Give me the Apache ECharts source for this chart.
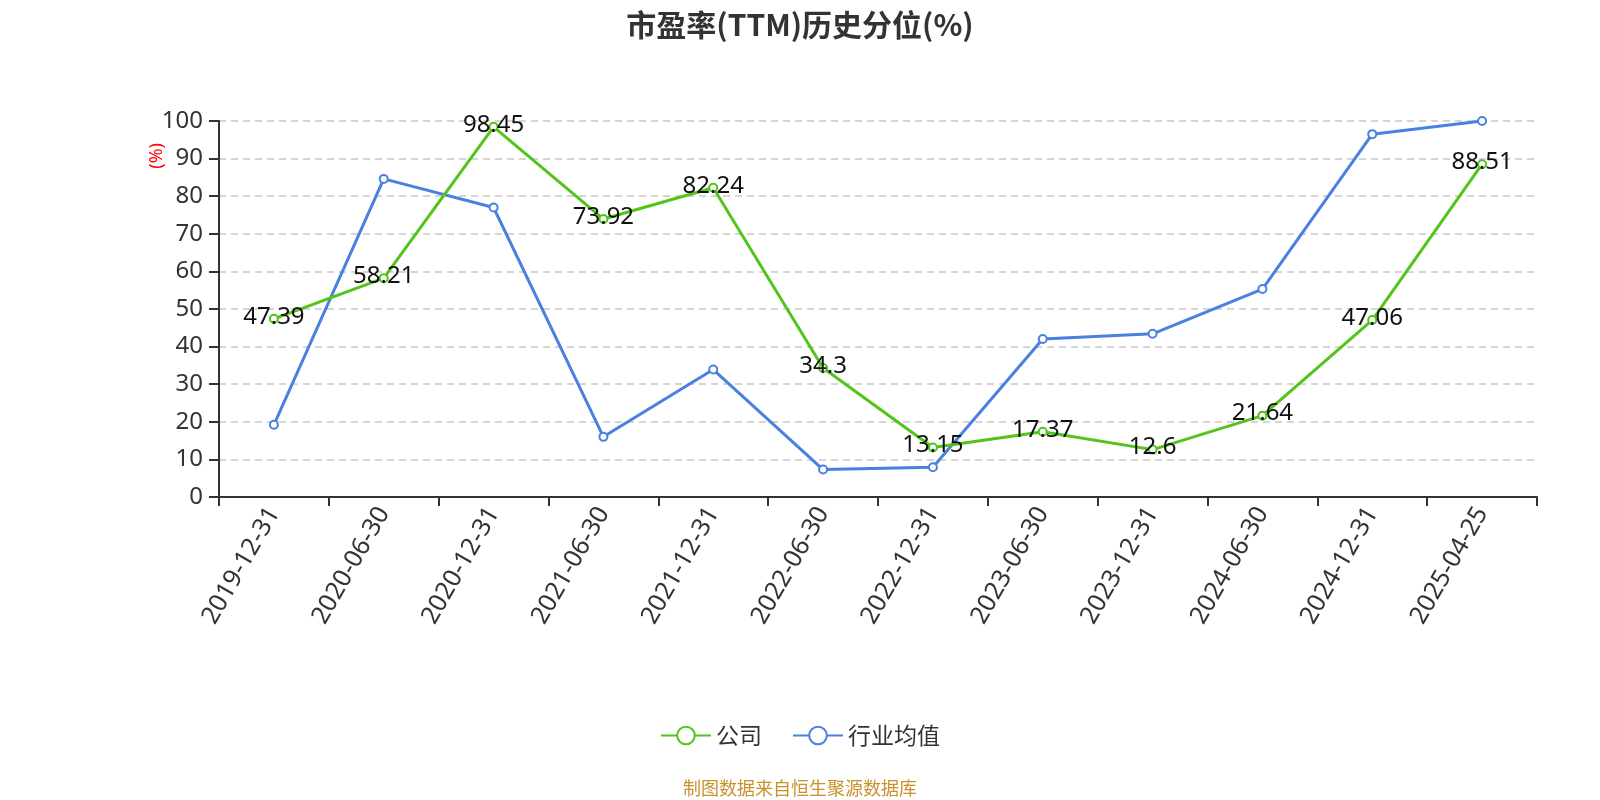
<!DOCTYPE html>
<html><head><meta charset="utf-8">
<script src="https://cdn.jsdelivr.net/npm/echarts@6/dist/echarts.min.js"></script>
<style>html,body{margin:0;padding:0;background:#fff}#c{width:1600px;height:800px}</style>
</head><body><div id="c"></div>
<script>
const categories = ['2019-12-31','2020-06-30','2020-12-31','2021-06-30','2021-12-31','2022-06-30','2022-12-31','2023-06-30','2023-12-31','2024-06-30','2024-12-31','2025-04-25'];
const companyValues = [47.39,58.21,98.45,73.92,82.24,34.3,13.15,17.37,12.6,21.64,47.06,88.51];
const industryValues = [19.2,84.6,77.0,16.0,33.9,7.3,7.9,42.0,43.4,55.3,96.5,100];
const seriesNames = ['公司','行业均值'];
const yTicks = {min:0,max:100,interval:10};

const chart = echarts.init(document.getElementById('c'));
chart.setOption({
  backgroundColor:'#fff',
  title:{text:'市盈率(TTM)历史分位(%)',left:'center',top:5,textStyle:{fontSize:30,fontWeight:'bold',color:'#333',fontFamily:'Noto Sans CJK SC'}},
  legend:{bottom:48,left:'center',itemWidth:50,itemHeight:22,itemGap:30,textStyle:{fontSize:23,color:'#333',fontFamily:'Noto Sans CJK SC'},data:seriesNames},
  grid:{left:219,right:63,top:121,bottom:303},
  xAxis:{type:'category',data:categories,boundaryGap:true,
    axisLine:{lineStyle:{color:'#333',width:2}},
    axisTick:{show:true,length:9,lineStyle:{color:'#333',width:2}},
    axisLabel:{rotate:60,fontSize:25,color:'#333',margin:12,fontFamily:'Noto Sans'}},
  yAxis:{type:'value',min:yTicks.min,max:yTicks.max,interval:yTicks.interval,
    axisLine:{show:true,lineStyle:{color:'#333',width:2}},
    axisTick:{show:true,length:10,lineStyle:{color:'#333',width:2}},
    axisLabel:{fontSize:24,color:'#333',margin:16,fontFamily:'Noto Sans'},
    splitLine:{show:true,lineStyle:{type:[7,5],color:'#c8c8c8',width:1.5}}},
  graphic:[
    {type:'text',left:148,top:143,rotation:Math.PI/2,style:{text:'(%)',fill:'#ff0000',fontSize:18,fontFamily:'Noto Sans'}},
    {type:'text',left:'center',top:779,style:{text:'制图数据来自恒生聚源数据库',fill:'#c8922a',fontSize:18,fontFamily:'Noto Sans CJK SC'}}
  ],
  series:[
    {name:seriesNames[0],type:'line',data:companyValues,color:'#52c41a',symbol:'emptyCircle',symbolSize:8,
      lineStyle:{width:3},itemStyle:{borderWidth:2},
      label:{show:true,position:'inside',offset:[0,-2],fontSize:24,color:'#111',fontFamily:'Noto Sans'},z:3},
    {name:seriesNames[1],type:'line',data:industryValues,color:'#4a80e0',symbol:'emptyCircle',symbolSize:8,
      lineStyle:{width:3},itemStyle:{borderWidth:2},z:2}
  ]
});
</script></body></html>
